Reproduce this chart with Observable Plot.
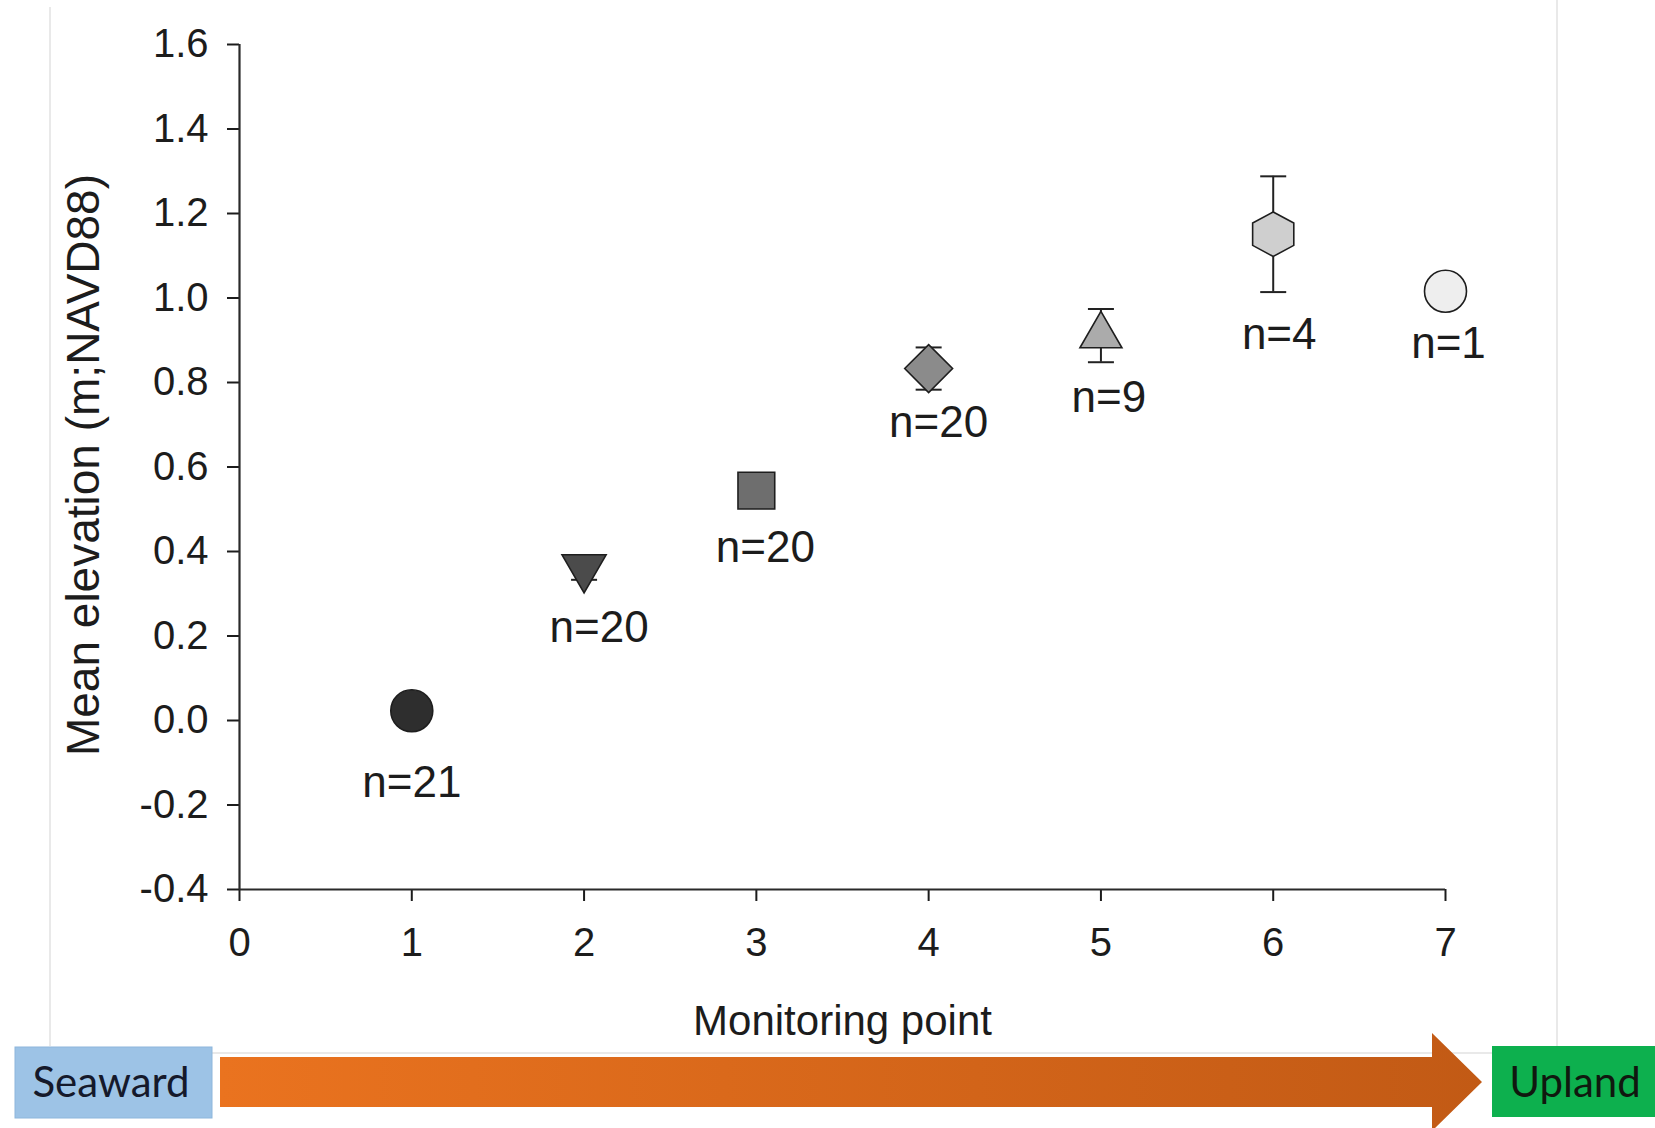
<!DOCTYPE html>
<html>
<head>
<meta charset="utf-8">
<script src="https://cdn.jsdelivr.net/npm/d3@7"></script>
<script src="https://cdn.jsdelivr.net/npm/@observablehq/plot@0.6"></script>
<style>
  html, body { margin: 0; padding: 0; background: #ffffff; }
  #wrap { position: relative; width: 1655px; height: 1128px; overflow: hidden; }
  #band { position: absolute; left: 0; top: 0; pointer-events: none; }
</style>
</head>
<body>
<div id="wrap"></div>
<script>
// ---------- data ----------
const monitoringPoints = [1, 2, 3, 4, 5, 6, 7];
const meanElevation    = [0.023, 0.362, 0.544, 0.833, 0.911, 1.151, 1.016];
const errorBar         = [0.03, 0.029, 0.02, 0.05, 0.063, 0.137, null];
const sampleSizes      = [21, 20, 20, 20, 9, 4, 1];
const xTicks = [0, 1, 2, 3, 4, 5, 6, 7];
const yTicks = [-0.4, -0.2, 0, 0.2, 0.4, 0.6, 0.8, 1.0, 1.2, 1.4, 1.6];
const xTitle = "Monitoring point";
const yTitle = "Mean elevation (m;NAVD88)";
const gradientLabels = ["Seaward", "Upland"];

// ---------- styles ----------
function rad(size) { return Math.sqrt(size / Math.PI); }
const symTriangleDown = { draw(c, size) { const r = rad(size), s = 2.1 * r, h = s * Math.sqrt(3) / 2;
  c.moveTo(-s / 2, -h / 3); c.lineTo(s / 2, -h / 3); c.lineTo(0, 2 * h / 3); c.closePath(); } };
const symSquare = { draw(c, size) { const a = 0.875 * rad(size);
  c.moveTo(-a, -a); c.lineTo(a, -a); c.lineTo(a, a); c.lineTo(-a, a); c.closePath(); } };
const symDiamond = { draw(c, size) { const a = 1.14 * rad(size);
  c.moveTo(0, -a); c.lineTo(a, 0); c.lineTo(0, a); c.lineTo(-a, 0); c.closePath(); } };
const symTriangleUp = { draw(c, size) { const r = rad(size), s = 2.0 * r, h = s * Math.sqrt(3) / 2;
  c.moveTo(0, -2 * h / 3); c.lineTo(s / 2, h / 3); c.lineTo(-s / 2, h / 3); c.closePath(); } };
const symHexagon = { draw(c, size) { const r = rad(size), rx = 0.98 * r, ry = 1.06 * r, hy = ry / 2;
  c.moveTo(0, -ry); c.lineTo(rx, -hy); c.lineTo(rx, hy); c.lineTo(0, ry); c.lineTo(-rx, hy); c.lineTo(-rx, -hy); c.closePath(); } };
const symCap = { draw(c, size) { const r = rad(size); c.moveTo(-r, 0); c.lineTo(r, 0); } };

const markerSymbols = ["circle", symTriangleDown, symSquare, symDiamond, symTriangleUp, symHexagon, "circle"];
const markerFills = ["#2e2e2e", "#4b4b4b", "#6e6e6e", "#8b8b8b", "#ababab", "#cfcfcf", "#eeeeee"];
const labelOffsets = [[0, 72], [15, 60], [9, 57], [10, 54], [8, 62], [6, 101], [3, 53]];

const rows = monitoringPoints.map((p, i) => ({ point: p, mean: meanElevation[i], err: errorBar[i], n: sampleSizes[i] }));
const errRows = rows.filter(d => d.err != null);
const ink = "#1c1c1c";

const plot = Plot.plot({
  width: 1655,
  height: 1046,
  marginLeft: 239,
  marginRight: 210,
  marginTop: 44,
  marginBottom: 157,
  x: { domain: [0, 7], label: null },
  y: { domain: [-0.4, 1.6], label: null },
  style: { fontFamily: "'Liberation Sans', Arial, sans-serif", fontSize: "40px", color: ink, background: "transparent", overflow: "visible" },
  marks: [
    Plot.axisX({ ticks: xTicks, tickSize: 12, tickPadding: 26, tickFormat: d => String(d), strokeWidth: 2, label: null }),
    Plot.axisY({ ticks: yTicks, tickSize: 12, tickPadding: 19, tickFormat: d => d.toFixed(1), strokeWidth: 2, label: null }),
    Plot.ruleY([-0.4], { stroke: "#2a2a2a", strokeWidth: 2.2 }),
    Plot.ruleX([0], { stroke: "#2a2a2a", strokeWidth: 2.2 }),
    Plot.text([yTitle], { text: d => d, frameAnchor: "left", textAnchor: "middle", lineAnchor: "middle", dx: -155, dy: -2, rotate: -90, fontSize: 46, fill: ink }),
    Plot.text([xTitle], { text: d => d, frameAnchor: "bottom", textAnchor: "middle", lineAnchor: "middle", dy: 132, fontSize: 42, fill: ink }),
    Plot.ruleX(errRows, { x: "point", y1: d => d.mean - d.err, y2: d => d.mean + d.err, stroke: "#222", strokeWidth: 2 }),
    Plot.dot(errRows, { x: "point", y: d => d.mean + d.err, symbol: symCap, r: 13, fill: "none", stroke: "#222", strokeWidth: 2 }),
    Plot.dot(errRows, { x: "point", y: d => d.mean - d.err, symbol: symCap, r: 13, fill: "none", stroke: "#222", strokeWidth: 2 }),
    ...rows.map((d, i) => Plot.dot([d], { x: "point", y: "mean", symbol: markerSymbols[i], r: 21, fill: markerFills[i], stroke: "#1e1e1e", strokeWidth: 1.6 })),
    ...rows.map((d, i) => Plot.text([d], { x: "point", y: "mean", text: d => `n=${d.n}`, dx: labelOffsets[i][0], dy: labelOffsets[i][1], fontSize: 44, fill: ink }))
  ]
});

const wrap = document.getElementById("wrap");
wrap.appendChild(plot);

// ---------- Seaward -> Upland band ----------
const band = d3.create("svg").attr("id", "band").attr("width", 1655).attr("height", 1128);
const defs = band.append("defs");
const grad = defs.append("linearGradient").attr("id", "arrowGrad").attr("x1", "0").attr("x2", "1").attr("y1", "0").attr("y2", "0");
grad.append("stop").attr("offset", "0%").attr("stop-color", "#ea731f");
grad.append("stop").attr("offset", "100%").attr("stop-color", "#c25a15");
// faint picture border
band.append("path").attr("d", "M50,7V1046 M1557,0V1053 M50,1053H1557").attr("stroke", "#e2e2e2").attr("stroke-width", 1.5).attr("fill", "none");
// arrow
band.append("path").attr("d", "M220,1057H1432V1033L1482,1082L1432,1131V1107H220Z").attr("fill", "url(#arrowGrad)");
// boxes
band.append("rect").attr("x", 15).attr("y", 1047).attr("width", 197).attr("height", 71).attr("fill", "#9dc3e6").attr("stroke", "#8db6dc").attr("stroke-width", 1);
band.append("rect").attr("x", 1492).attr("y", 1046).attr("width", 170).attr("height", 71).attr("fill", "#0db04e");
band.append("text").attr("x", 111).attr("y", 1082).attr("dy", "0.35em").attr("text-anchor", "middle")
  .attr("font-family", "Lato, 'Open Sans', sans-serif").attr("font-size", 42).attr("fill", "#15192b").text(gradientLabels[0]);
band.append("text").attr("x", 1575).attr("y", 1082).attr("dy", "0.35em").attr("text-anchor", "middle")
  .attr("font-family", "Lato, 'Open Sans', sans-serif").attr("font-size", 42).attr("fill", "#10180f").text(gradientLabels[1]);
wrap.appendChild(band.node());
</script>
</body>
</html>
